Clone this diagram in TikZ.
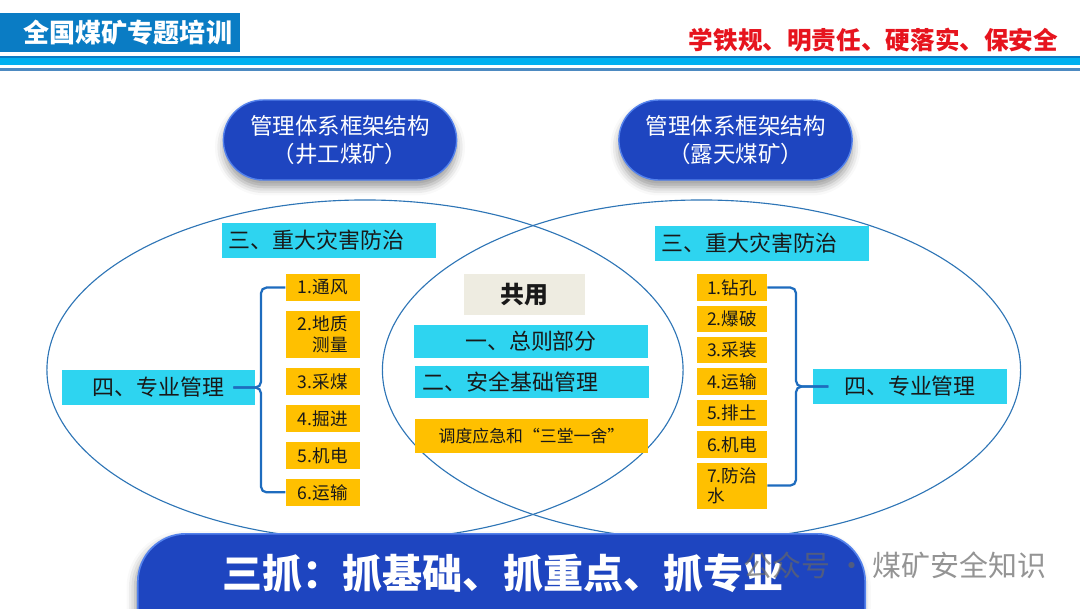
\documentclass[tikz,border=0pt]{standalone}
\usepackage{fontspec}
\setmainfont{Noto Sans CJK SC}
\usetikzlibrary{positioning, shadows.blur}
\definecolor{pillblue}{RGB}{30,69,192}
\definecolor{pillrim}{RGB}{84,130,236}
\definecolor{cyanbox}{RGB}{46,212,240}
\definecolor{orangebox}{RGB}{255,192,0}
\definecolor{graybox}{RGB}{238,236,225}
\definecolor{ringblue}{RGB}{46,117,182}
\definecolor{braceblue}{RGB}{30,108,190}
\definecolor{headblue}{RGB}{10,124,196}
\definecolor{bandblue}{RGB}{0,176,240}
\definecolor{slogantext}{RGB}{230,20,30}
\definecolor{inktext}{RGB}{25,25,25}
\tikzstyle{titlebox} = [rectangle, minimum width=6cm, minimum height=0.975cm, text width=5.6cm, align=right, fill=headblue, text=white, font=\fontsize{18.5}{21}\selectfont\bfseries]
\tikzstyle{slogan} = [text=slogantext, font=\fontsize{17.5}{20}\selectfont\bfseries]
\tikzstyle{pill} = [rectangle, rounded corners=1cm, minimum width=5.83cm, minimum height=2cm, fill=pillblue, draw=pillrim, line width=1pt, text=white, align=center, font=\fontsize{16}{19.5}\selectfont, blur shadow={shadow xshift=0pt, shadow yshift=-5pt, shadow blur radius=6pt, shadow opacity=40}]
\tikzstyle{cyanbase} = [rectangle, minimum height=0.88cm, fill=cyanbox, text=inktext, font=\fontsize{15.6}{18}\selectfont]
\tikzstyle{hazard} = [cyanbase, minimum width=5.35cm, text width=5cm, align=left]
\tikzstyle{zybox} = [cyanbase, minimum width=4.83cm]
\tikzstyle{litem} = [rectangle, minimum width=1.86cm, minimum height=0.68cm, fill=orangebox, text=inktext, inner sep=1pt, font=\fontsize{12.5}{14.5}\selectfont]
\tikzstyle{ritem} = [litem, minimum width=1.76cm, minimum height=0.66cm]
\tikzstyle{sharebox} = [rectangle, minimum width=3.03cm, minimum height=1.03cm, fill=graybox, text=inktext, font=\fontsize{17}{20}\selectfont\bfseries]
\tikzstyle{cbox} = [cyanbase, minimum width=5.85cm, minimum height=0.82cm]
\tikzstyle{obox} = [litem, minimum width=5.83cm, minimum height=0.85cm, font=\fontsize{12}{14.5}\selectfont]
\tikzstyle{ring} = [draw=ringblue, line width=0.8pt]
\tikzstyle{brace} = [draw=braceblue, line width=1.6pt, rounded corners=4pt]
\tikzstyle{banner} = [rectangle, rounded corners=1.2cm, minimum width=18.18cm, minimum height=3.5cm, fill=pillblue, draw=pillrim, line width=1.2pt, blur shadow={shadow xshift=-2pt, shadow yshift=-4pt, shadow blur radius=6pt, shadow opacity=40}]
\tikzstyle{bannertext} = [text=white, font=\fontsize{28.5}{32}\selectfont\bfseries]
\tikzstyle{wmark} = [text=black!60, text opacity=0.7, font=\fontsize{20.6}{24}\selectfont]

\begin{document}
\begin{tikzpicture}[x=0.025cm, y=-0.025cm]
\useasboundingbox (0,0) rectangle (1080,608);

\node (title) [titlebox] at (120,32.5) {全国煤矿专题培训};
\node (motto) [slogan] at (873.5,40) {学铁规、明责任、硬落实、保安全};
\fill[bandblue] (0,57) rectangle (1080,65);
\draw[headblue, line width=0.8pt] (0,57) -- (1080,57);
\draw[ringblue!85, line width=1.5pt] (0,69.5) -- (1080,69.5);

\draw[ring] (365,370) ellipse [x radius=7.95cm, y radius=4.25cm];
\draw[ring] (701.5,370) ellipse [x radius=7.975cm, y radius=4.25cm];

\node (pillL) [pill] at (340,140) {管理体系框架结构\\（井工煤矿）};
\node (pillR) [pill] at (735.5,140) {管理体系框架结构\\（露天煤矿）};

\node (hazL) [hazard] at (329,240.5) {三、重大灾害防治};
\node (hazR) [hazard] at (762,243.5) {三、重大灾害防治};
\node (lzy) [zybox] at (158.5,387.5) {四、专业管理};
\node (rzy) [zybox] at (910,386.5) {四、专业管理};

\node (l1) [litem] at (322.75,287.5) {1.通风};
\node (l2) [litem, below=0.23cm of l1, minimum height=1.18cm, align=right] {2.地质\\测量};
\node (l3) [litem, below=0.23cm of l2] {3.采煤};
\node (l4) [litem, below=0.23cm of l3] {4.掘进};
\node (l5) [litem, below=0.23cm of l4] {5.机电};
\node (l6) [litem, below=0.23cm of l5] {6.运输};

\node (r1) [ritem] at (732,287.5) {1.钻孔};
\node (r2) [ritem, below=0.11cm of r1] {2.爆破};
\node (r3) [ritem, below=0.11cm of r2] {3.采装};
\node (r4) [ritem, below=0.11cm of r3] {4.运输};
\node (r5) [ritem, below=0.11cm of r4] {5.排土};
\node (r6) [ritem, below=0.11cm of r5] {6.机电};
\node (r7) [ritem, below=0.11cm of r6, minimum height=1.15cm, align=left] {7.防治\\水};

\node (share) [sharebox] at (524.5,294.5) {共用};
\node (zongze) [cbox] at (531,341.5) {一、总则部分};
\node (jichu) [cbox, text width=5.45cm, align=left] at (532,382) {二、安全基础管理};
\node (diaodu) [obox] at (531.5,436) {调度应急和“三堂一舍”};

\coordinate (lb) at (261,387.5);
\draw[brace] (l1.west) -| (lb) -- ([xshift=-0.55cm]lzy.east);
\draw[brace] (l6.west) -| (lb) -- ([xshift=-0.55cm]lzy.east);
\coordinate (rb) at (796,386.5);
\draw[brace] (r1.east) -| (rb) -- ([xshift=0.38cm]rzy.west);
\draw[brace] (r7.east) -| (rb) -- ([xshift=0.38cm]rzy.west);

\node (banner) [banner, anchor=north] at (501.5,533) {};
\node (slogan3) [bannertext] at (503,573) {三抓：抓基础、抓重点、抓专业};
\node (wm) [wmark] at (895,565) {公众号 · 煤矿安全知识};
\end{tikzpicture}
\end{document}
